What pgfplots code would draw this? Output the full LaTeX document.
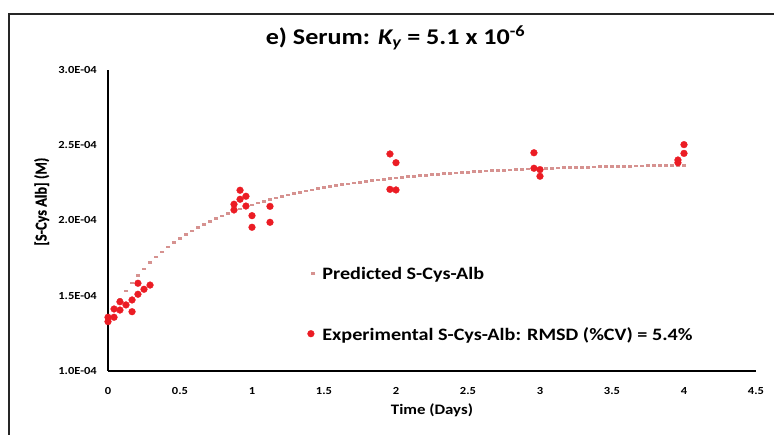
\documentclass[border=0pt]{standalone}
\usepackage{pgfplots}
\pgfplotsset{compat=1.18}
\usepackage{fontspec}
\setmainfont{Carlito}
\newfontfamily\cf{Carlito}[FakeStretch=1.16]
\newfontfamily\cfy{Carlito}[FakeBold=0.6]
\definecolor{ptred}{RGB}{235,28,36}
\definecolor{predc}{RGB}{214,146,144}
\pgfplotsset{
  predimg/.style={legend image code/.code={\draw[##1] plot coordinates {(5.75pt,6pt)};}},
  dotimg/.style={legend image code/.code={\draw[##1] plot coordinates {(3.5pt,7pt)};}},
}
\begin{document}
\begin{tikzpicture}
\begin{axis}[
  at={(0pt,0pt)}, anchor=south west,
  scale only axis, width=648pt, height=301pt,
  xmin=0, xmax=4.5, ymin=1e-4, ymax=3e-4,
  clip=false,
  axis x line*=bottom, axis y line*=left,
  axis line style={line width=1.6pt, black},
  xtick={0,0.5,1,1.5,2,2.5,3,3.5,4,4.5},
  xticklabels={0,0.5,1,1.5,2,2.5,3,3.5,4,4.5},
  ytick={1e-4,1.5e-4,2e-4,2.5e-4,3e-4},
  yticklabels={1.0E-04,1.5E-04,2.0E-04,2.5E-04,3.0E-04},
  scaled y ticks=false, scaled x ticks=false,
  major tick length=0pt,
  tick label style={font=\cf\bfseries\fontsize{10.8}{13}\selectfont, inner sep=0pt},
  yticklabel style={anchor=east, xshift=-11pt},
  xticklabel style={anchor=north, yshift=-16.5pt},
  title={e) Serum: \textit{K\textsubscript{y}} = 5.1 x 10\textsuperscript{-6}},
  title style={at={(axis description cs:0.4437,1.0664)}, anchor=base, inner sep=0pt, font=\cf\bfseries\fontsize{22.5}{27}\selectfont},
  xlabel={Time (Days)},
  x label style={at={(axis description cs:0.5,0)}, anchor=base, yshift=-44pt, inner sep=0pt, font=\cf\bfseries\fontsize{14.5}{17}\selectfont},
  ylabel={\scalebox{1}[1.16]{\cfy\bfseries\fontsize{14.3}{17}\selectfont [S-Cys Alb] (M)}},
  y label style={at={(axis description cs:-0.1023,0.5625)}, anchor=center, inner sep=0pt},
  legend cell align=left,
  legend style={at={(axis description cs:0.3079,0.3445)}, anchor=north west, draw=none, fill=none, inner sep=0pt, outer sep=0pt, row sep=45.4pt, column sep=7pt, font=\cf\bfseries\fontsize{17.4}{20}\selectfont, nodes={inner sep=0pt, text height=12pt, text depth=4pt, anchor=base west}},
]
\addplot[only marks, mark=-, mark size=2.2pt, mark options={line width=2.7pt, draw=predc}, predimg] table {
t y
0 1.3400e-4
0.0417 1.4100e-4
0.0833 1.4738e-4
0.1250 1.5318e-4
0.1667 1.5848e-4
0.2083 1.6334e-4
0.2500 1.6779e-4
0.2917 1.7189e-4
0.3333 1.7566e-4
0.3750 1.7914e-4
0.4167 1.8236e-4
0.4583 1.8535e-4
0.5000 1.8812e-4
0.5417 1.9070e-4
0.5833 1.9311e-4
0.6250 1.9536e-4
0.6667 1.9746e-4
0.7083 1.9944e-4
0.7500 2.0129e-4
0.7917 2.0303e-4
0.8333 2.0467e-4
0.8750 2.0622e-4
0.9167 2.0767e-4
0.9583 2.0905e-4
1.0000 2.1036e-4
1.0417 2.1160e-4
1.0833 2.1277e-4
1.1250 2.1388e-4
1.1667 2.1494e-4
1.2083 2.1594e-4
1.2500 2.1690e-4
1.2917 2.1781e-4
1.3333 2.1867e-4
1.3750 2.1950e-4
1.4167 2.2028e-4
1.4583 2.2104e-4
1.5000 2.2175e-4
1.5417 2.2244e-4
1.5833 2.2309e-4
1.6250 2.2372e-4
1.6667 2.2431e-4
1.7083 2.2488e-4
1.7500 2.2543e-4
1.7917 2.2595e-4
1.8333 2.2645e-4
1.8750 2.2693e-4
1.9167 2.2739e-4
1.9583 2.2783e-4
2.0000 2.2825e-4
2.0417 2.2865e-4
2.0833 2.2904e-4
2.1250 2.2940e-4
2.1667 2.2976e-4
2.2083 2.3010e-4
2.2500 2.3042e-4
2.2917 2.3073e-4
2.3333 2.3103e-4
2.3750 2.3132e-4
2.4167 2.3159e-4
2.4583 2.3185e-4
2.5000 2.3210e-4
2.5417 2.3235e-4
2.5833 2.3258e-4
2.6250 2.3280e-4
2.6667 2.3301e-4
2.7083 2.3322e-4
2.7500 2.3342e-4
2.7917 2.3360e-4
2.8333 2.3378e-4
2.8750 2.3396e-4
2.9167 2.3412e-4
2.9583 2.3428e-4
3.0000 2.3443e-4
3.0417 2.3458e-4
3.0833 2.3472e-4
3.1250 2.3485e-4
3.1667 2.3498e-4
3.2083 2.3510e-4
3.2500 2.3522e-4
3.2917 2.3533e-4
3.3333 2.3544e-4
3.3750 2.3555e-4
3.4167 2.3565e-4
3.4583 2.3574e-4
3.5000 2.3584e-4
3.5417 2.3592e-4
3.5833 2.3601e-4
3.6250 2.3609e-4
3.6667 2.3617e-4
3.7083 2.3624e-4
3.7500 2.3631e-4
3.7917 2.3638e-4
3.8333 2.3645e-4
3.8750 2.3651e-4
3.9167 2.3657e-4
3.9583 2.3663e-4
4.0000 2.3669e-4
};
\addlegendentry{Predicted S-Cys-Alb}
\addplot[only marks, mark=*, mark size=3.4pt, color=ptred, mark options={fill=ptred, draw=ptred, line width=0.3pt}, dotimg] table {
t y
0.000 1.328e-4
0.000 1.357e-4
0.042 1.357e-4
0.042 1.412e-4
0.083 1.460e-4
0.083 1.405e-4
0.125 1.439e-4
0.167 1.394e-4
0.167 1.472e-4
0.208 1.510e-4
0.208 1.583e-4
0.250 1.543e-4
0.292 1.571e-4
0.875 2.108e-4
0.875 2.070e-4
0.917 2.201e-4
0.917 2.141e-4
0.958 2.161e-4
0.958 2.096e-4
1.000 2.032e-4
1.000 1.955e-4
1.125 2.094e-4
1.125 1.988e-4
1.958 2.442e-4
1.958 2.207e-4
2.000 2.384e-4
2.000 2.203e-4
2.958 2.450e-4
2.958 2.347e-4
3.000 2.338e-4
3.000 2.294e-4
3.958 2.402e-4
3.958 2.384e-4
4.000 2.504e-4
4.000 2.446e-4
};
\addlegendentry{Experimental S-Cys-Alb: RMSD (\%CV) = 5.4\%}
\end{axis}
\draw[line width=1.5pt, black!85] (-99pt,-64pt) -- (-99pt,357pt) -- (666pt,357pt);
\pgfresetboundingbox
\path[use as bounding box] (-108pt,-64pt) rectangle (666pt,371pt);
\end{tikzpicture}
\end{document}
